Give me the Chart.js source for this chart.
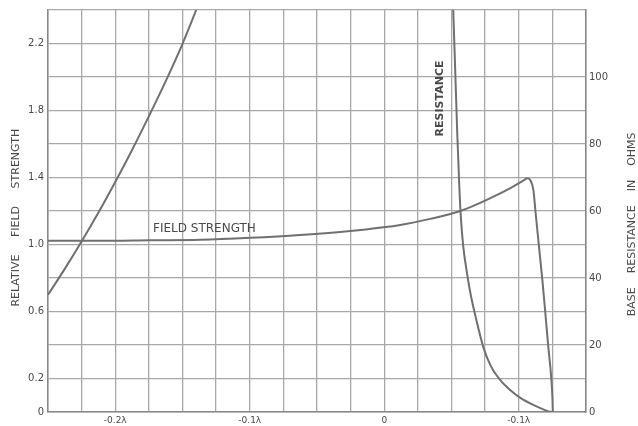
<!DOCTYPE html>
<html>
<head>
<meta charset="utf-8">
<script src="https://cdn.jsdelivr.net/npm/chart.js@4/dist/chart.umd.min.js"></script>
<style>
  html, body { margin: 0; padding: 0; background: #fff; }
  #wrap { width: 638px; height: 426px; }
</style>
</head>
<body>
<div id="wrap"><canvas id="chart"></canvas></div>
<script>
/* data: x in wavelengths */
const fieldX = [-0.25, -0.2113, -0.1741, -0.1369, -0.0997, -0.0625, -0.0253, 0.0119, 0.0342, 0.0565, 0.0789, 0.0938, 0.1027, 0.1064, 0.1086, 0.1109, 0.1124, 0.115, 0.1176, 0.1198, 0.122, 0.1235, 0.1246, 0.1251, 0.1253];
const fieldY = [1.022, 1.022, 1.025, 1.028, 1.04, 1.057, 1.081, 1.117, 1.153, 1.2, 1.277, 1.337, 1.378, 1.396, 1.384, 1.325, 1.2, 0.992, 0.784, 0.588, 0.386, 0.267, 0.154, 0.071, 0];

const resLeftX = [-0.25, -0.2374, -0.2247, -0.2128, -0.2002, -0.1875, -0.1756, -0.1629, -0.1503, -0.1398, -0.133];
const resLeftY = [35, 42.8, 51.1, 59.3, 68.5, 78.2, 87.8, 98.4, 109.6, 120, 127];

const resRightX = [0.0508, 0.0513, 0.0528, 0.0543, 0.0558, 0.0569, 0.0587, 0.061, 0.064, 0.0677, 0.0737, 0.0789, 0.0863, 0.0938, 0.1012, 0.1124, 0.122, 0.1243];
const resRightY = [126.8, 120, 101.6, 82.9, 67.4, 58.5, 49.6, 42.8, 35.6, 28.8, 19.3, 14, 9.5, 6.5, 4.2, 1.8, 0.2, 0];

const xTickValues = [-0.2, -0.1, 0, 0.1];
const xTickLabels = ["-0.2λ", "-0.1λ", "0", "-0.1λ"];
const leftTickValues = [0, 0.2, 0.6, 1.0, 1.4, 1.8, 2.2];
const leftTickLabels = ["0", "0.2", "0.6", "1.0", "1.4", "1.8", "2.2"];
const rightTickValues = [0, 20, 40, 60, 80, 100];
const rightTickLabels = ["0", "20", "40", "60", "80", "100"];

const INK = "#4a4a4a";
const LINE = "#707070";
const GRID = "#a8a8a8";

const pts = (xs, ys) => xs.map((x, i) => ({ x, y: ys[i] }));
const pick = (vals, labels) => (v) => {
  const i = vals.findIndex((t) => Math.abs(t - v) < 1e-6);
  return i < 0 ? "" : labels[i];
};

// axis titles and in-plot notes
const notes = {
  id: "notes",
  afterDraw(chart) {
    const { ctx, scales } = chart;
    const { x, y, y1 } = scales;
    ctx.save();
    ctx.fillStyle = INK;
    ctx.textBaseline = "middle";

    ctx.font = "12px 'DejaVu Sans'";
    ctx.textAlign = "left";
    ctx.fillText("FIELD STRENGTH", x.getPixelForValue(-0.1719), y.getPixelForValue(1.093));

    ctx.textAlign = "center";
    ctx.font = "bold 11px 'DejaVu Sans'";
    ctx.save();
    ctx.translate(x.getPixelForValue(0.0417), y1.getPixelForValue(93.6));
    ctx.rotate(-Math.PI / 2);
    ctx.fillText("RESISTANCE", 0, 0);
    ctx.restore();

    ctx.font = "11px 'DejaVu Sans'";
    ctx.save();
    ctx.translate(16, y.getPixelForValue(1.16));
    ctx.rotate(-Math.PI / 2);
    ctx.fillText("RELATIVE     FIELD     STRENGTH", 0, 0);
    ctx.restore();

    ctx.save();
    ctx.translate(chart.width - 6, y1.getPixelForValue(56));
    ctx.rotate(-Math.PI / 2);
    ctx.fillText("BASE    RESISTANCE    IN    OHMS", 0, 0);
    ctx.restore();

    ctx.restore();
  },
};

Chart.register(notes);

new Chart(document.getElementById("chart"), {
  type: "line",
  data: {
    datasets: [
      { data: pts(fieldX, fieldY), yAxisID: "y" },
      { data: pts(resLeftX, resLeftY), yAxisID: "y1" },
      { data: pts(resRightX, resRightY), yAxisID: "y1" },
    ],
  },
  options: {
    responsive: true,
    maintainAspectRatio: false,
    animation: false,
    layout: { padding: { top: 8 } },
    elements: {
      line: { borderColor: LINE, borderWidth: 2, cubicInterpolationMode: "monotone" },
      point: { radius: 0 },
    },
    plugins: { legend: { display: false }, tooltip: { enabled: false } },
    scales: {
      x: {
        type: "linear",
        min: -0.25,
        max: 0.15,
        afterFit: (s) => { s.height = 14; },
        border: { color: "#888", width: 1.5 },
        grid: { color: GRID, lineWidth: 1.3, drawTicks: false },
        ticks: {
          stepSize: 0.025,
          autoSkip: false,
          maxRotation: 0,
          padding: 3,
          color: INK,
          font: { family: "DejaVu Sans", size: 9 },
          callback: pick(xTickValues, xTickLabels),
        },
      },
      y: {
        position: "left",
        min: 0,
        max: 2.4,
        afterFit: (s) => { s.width = 48; },
        border: { color: "#888", width: 1.5 },
        grid: { color: GRID, lineWidth: 1.3, drawTicks: false },
        ticks: {
          stepSize: 0.2,
          padding: 4,
          color: INK,
          font: { family: "DejaVu Sans", size: 10 },
          callback: pick(leftTickValues, leftTickLabels),
        },
      },
      y1: {
        position: "right",
        min: 0,
        max: 120,
        afterFit: (s) => { s.width = 52; },
        border: { color: "#888", width: 1.5 },
        grid: { display: false, drawTicks: false },
        ticks: {
          stepSize: 10,
          padding: 3,
          color: INK,
          font: { family: "DejaVu Sans", size: 10 },
          callback: pick(rightTickValues, rightTickLabels),
        },
      },
    },
  },
});
</script>
</body>
</html>
